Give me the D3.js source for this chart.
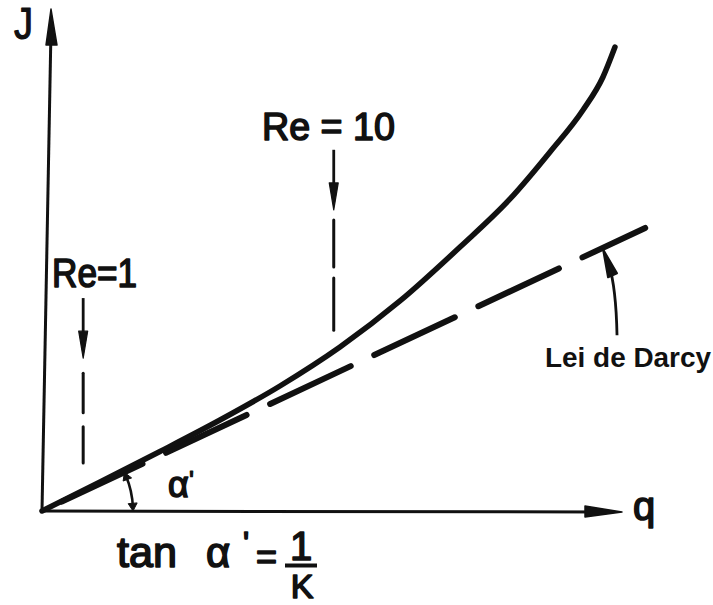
<!DOCTYPE html>
<html>
<head>
<meta charset="utf-8">
<script src="https://cdn.jsdelivr.net/npm/d3@7"></script>
<style>
  html, body { margin: 0; padding: 0; background: #fff; }
  svg { display: block; }
  text { font-family: "Liberation Sans", Arial, sans-serif; fill: #111; stroke-linejoin: round; }
</style>
</head>
<body>
<div id="chart"></div>
<script>
// Flow through porous media: hydraulic gradient J against specific discharge q.
// Real (non-Darcy) curve, sampled points.
const flowQ = [0, 1.000, 2.034, 3.069, 4.103, 5.138, 6.172, 7.207, 8.069, 8.759, 9.328, 9.672, 9.879];
const flowJ = [0, 0.579, 1.188, 1.816, 2.495, 3.273, 4.192, 5.269, 6.228, 7.166, 8.004, 8.663, 9.261];

// Darcy's law: straight line through the origin, J = q / K.
const darcyQ = [0, 10.40];
const darcyJ = [0, 5.65];

// Reynolds number thresholds marked along q.
const reLabels = ["Re=1", "Re = 10"];
const reQ = [0.71, 5.03];

// Axis and annotation texts.
const axisLabels = { x: "q", y: "J" };
const lawLabel = "Lei de Darcy";
const angleSymbol = "\u03B1";

const W = 713, H = 605;
const ink = "#111";

const svg = d3.select("#chart").append("svg")
  .attr("width", W).attr("height", H)
  .attr("viewBox", `0 0 ${W} ${H}`);

svg.append("rect").attr("width", W).attr("height", H).attr("fill", "#fff");

const x = d3.scaleLinear().domain([0, 10]).range([42, 622]);
const y = d3.scaleLinear().domain([0, 10]).range([511, 10]);

// ---- axes (plain arrows, no ticks) ----
const x0 = x(0), y0 = y(0);
const yLean = 9; // the vertical axis leans slightly right
const yTop = y(10) - 1;

svg.append("line")
  .attr("x1", x0).attr("y1", y0)
  .attr("x2", x0 + yLean).attr("y2", yTop + 20)
  .attr("stroke", ink).attr("stroke-width", 3);
svg.append("path")
  .attr("d", `M${x0 + yLean},${yTop} L${x0 + yLean + 6},${yTop + 36} L${x0 + yLean - 5},${yTop + 36} Z`)
  .attr("fill", ink).attr("stroke", ink).attr("stroke-width", 1.5).attr("stroke-linejoin", "round");

svg.append("line")
  .attr("x1", x0).attr("y1", y0)
  .attr("x2", x(10) - 20).attr("y2", y0 + 1)
  .attr("stroke", ink).attr("stroke-width", 3);
svg.append("path")
  .attr("d", `M${x(10)},${y0 + 1} L${x(10) - 37},${y0 - 5} L${x(10) - 37},${y0 + 6} Z`)
  .attr("fill", ink).attr("stroke", ink).attr("stroke-width", 1.5).attr("stroke-linejoin", "round");

svg.append("text")
  .attr("x", 14).attr("y", 39)
  .attr("font-size", 44)
  .attr("textLength", 19).attr("lengthAdjust", "spacingAndGlyphs")
  .attr("stroke", ink).attr("stroke-width", 1.2)
  .text(axisLabels.y);

svg.append("text")
  .attr("x", x(10) + 11).attr("y", y0 + 9)
  .attr("font-size", 40)
  .attr("stroke", ink).attr("stroke-width", 1.6)
  .text(axisLabels.x);

// ---- Darcy line (long dashes) ----
const darcyPts = darcyQ.map((q, i) => ({ q, J: darcyJ[i] }));
const straight = d3.line().x(d => x(d.q)).y(d => y(d.J));

svg.append("path")
  .attr("d", straight(darcyPts))
  .attr("fill", "none").attr("stroke", ink)
  .attr("stroke-width", 6).attr("stroke-linecap", "round")
  .attr("stroke-dasharray", "89,26").attr("stroke-dashoffset", 93);

// ---- real flow curve ----
const flowPts = flowQ.map((q, i) => ({ q, J: flowJ[i] }));
const smooth = d3.line().x(d => x(d.q)).y(d => y(d.J)).curve(d3.curveMonotoneX);
svg.append("path")
  .attr("d", smooth(flowPts))
  .attr("fill", "none").attr("stroke", ink)
  .attr("stroke-width", 5.5).attr("stroke-linecap", "round");

// ---- Reynolds markers: label, arrow, dashed drop line ----
// vertical layout of each marker in J units: arrow shaft top, arrow tip, two dashes
const reLayout = [
  { top: 4.25, tip: 3.05, dashes: [[2.75, 1.96], [1.68, 0.96]], textX: 52, textY: 287, len: 85, size: 40 },
  { top: 7.21, tip: 6.01, dashes: [[5.81, 4.87], [4.65, 3.61]], textX: 262, textY: 140, len: 133, size: 38 }
];

reQ.forEach((q, i) => {
  const L = reLayout[i];
  const cx = x(q);
  const g = svg.append("g");
  g.append("text")
    .attr("x", L.textX).attr("y", L.textY)
    .attr("font-size", L.size)
    .attr("textLength", L.len).attr("lengthAdjust", "spacingAndGlyphs")
    .attr("stroke", ink).attr("stroke-width", 1.6)
    .text(reLabels[i]);
  g.append("line")
    .attr("x1", cx).attr("y1", y(L.top))
    .attr("x2", cx).attr("y2", y(L.tip) - 20)
    .attr("stroke", ink).attr("stroke-width", 2.8);
  g.append("path")
    .attr("d", `M${cx},${y(L.tip)} L${cx - 4.5},${y(L.tip) - 27} L${cx + 4.5},${y(L.tip) - 27} Z`)
    .attr("fill", ink).attr("stroke", ink).attr("stroke-width", 1.2).attr("stroke-linejoin", "round");
  L.dashes.forEach(([a, b]) => {
    g.append("line")
      .attr("x1", cx).attr("y1", y(a))
      .attr("x2", cx).attr("y2", y(b))
      .attr("stroke", ink).attr("stroke-width", 3).attr("stroke-linecap", "round");
  });
});

// ---- angle alpha' between Darcy line and q axis ----
const slopeAngle = Math.atan2(y0 - y(darcyJ[1]), x(darcyQ[1]) - x0);
const r = 91;
const arcStart = 0.035, arcEnd = slopeAngle - 0.035;
const pA = [x0 + r * Math.cos(arcStart), y0 - r * Math.sin(arcStart)];
const pB = [x0 + r * Math.cos(arcEnd), y0 - r * Math.sin(arcEnd)];
svg.append("path")
  .attr("d", `M${pA[0]},${pA[1]} A${r},${r} 0 0 0 ${pB[0]},${pB[1]}`)
  .attr("fill", "none").attr("stroke", ink).attr("stroke-width", 2.6);

function arcHead(theta, dir) {
  // small arrowhead on the arc, pointing along the arc direction
  const tipA = theta + dir * 0.035;
  const tipP = [x0 + r * Math.cos(tipA), y0 - r * Math.sin(tipA)];
  const back = theta - dir * 0.05;
  const bx = x0 + r * Math.cos(back), by = y0 - r * Math.sin(back);
  const nx = Math.cos(back), ny = -Math.sin(back);
  svg.append("path")
    .attr("d", `M${tipP[0]},${tipP[1]} L${bx + nx * 4.5},${by + ny * 4.5} L${bx - nx * 4.5},${by - ny * 4.5} Z`)
    .attr("fill", ink).attr("stroke", ink).attr("stroke-width", 1).attr("stroke-linejoin", "round");
}
arcHead(arcStart, -1);
arcHead(arcEnd, 1);

// alpha' label inside the angle: Greek letter plus a separate prime
svg.append("text")
  .attr("x", 168).attr("y", 497)
  .attr("font-size", 36)
  .attr("stroke", ink).attr("stroke-width", 1.6)
  .text(angleSymbol);
svg.append("text")
  .attr("x", 189).attr("y", 489)
  .attr("font-size", 26)
  .attr("stroke", ink).attr("stroke-width", 1.2)
  .text("'");

// ---- Darcy law pointer ----
const tipQ = 9.69;
const tip = [x(tipQ), y(tipQ * darcyJ[1] / darcyQ[1])];
const tail = [tip[0] + 13, tip[1] + 88];
svg.append("path")
  .attr("d", `M${tail[0]},${tail[1]} Q${tip[0] + 12},${tip[1] + 40} ${tip[0] + 5},${tip[1] + 18}`)
  .attr("fill", "none").attr("stroke", ink).attr("stroke-width", 2.8);
svg.append("path")
  .attr("d", `M${tip[0] - 1},${tip[1] + 2} L${tip[0] + 13},${tip[1] + 26} L${tip[0] + 4},${tip[1] + 30} Z`)
  .attr("fill", ink).attr("stroke", ink).attr("stroke-width", 2).attr("stroke-linejoin", "round");

svg.append("text")
  .attr("x", 545).attr("y", 367)
  .attr("font-size", 28).attr("font-weight", "bold")
  .attr("textLength", 166).attr("lengthAdjust", "spacingAndGlyphs")
  .text(lawLabel);

// ---- tan alpha' = 1/K ----
const formula = svg.append("g").attr("stroke", ink).attr("stroke-width", 1.6);
formula.append("text").attr("x", 117).attr("y", 567).attr("font-size", 42)
  .attr("textLength", 60).attr("lengthAdjust", "spacingAndGlyphs").text("tan");
formula.append("text").attr("x", 206).attr("y", 567).attr("font-size", 42).text(angleSymbol);
formula.append("text").attr("x", 243).attr("y", 554).attr("font-size", 32).text("'");
formula.append("text").attr("x", 256).attr("y", 569).attr("font-size", 36).text("=");
formula.append("text").attr("x", 301).attr("y", 560).attr("font-size", 40)
  .attr("text-anchor", "middle").text("1");
formula.append("line").attr("x1", 285).attr("x2", 317).attr("y1", 565.5).attr("y2", 565.5)
  .attr("stroke-width", 4);
formula.append("text").attr("x", 302).attr("y", 598).attr("font-size", 34)
  .attr("text-anchor", "middle").text("K");
</script>
</body>
</html>
